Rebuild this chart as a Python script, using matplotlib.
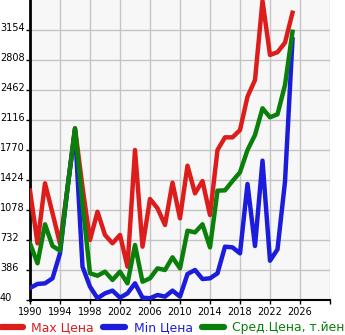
import matplotlib
matplotlib.use("Agg")
import matplotlib.pyplot as plt
from matplotlib.lines import Line2D
import matplotlib.transforms as mtransforms

years = list(range(1990, 2026))
max_price = [1301, 694, 1386, 1043, 690, 1330, 2020, 1343, 732, 1058, 790, 694, 790, 424,
             1770, 655, 1205, 1098, 905, 1393, 982, 1589, 1270, 1412, 1020, 1770, 1916,
             1916, 2000, 2385, 2577, 3490, 2866, 2898, 3008, 3353]
min_price = [178, 225, 232, 290, 578, 1330, 2000, 424, 194, 60, 117, 148, 67, 117,
             232, 67, 60, 98, 79, 148, 79, 340, 386, 282, 290, 348, 655,
             647, 578, 1378, 663, 1647, 493, 624, 1404, 3046]
avg_price = [694, 463, 913, 663, 609, 1330, 2020, 1150, 348, 320, 367, 271, 367, 232,
             674, 251, 290, 405, 386, 532, 405, 839, 820, 913, 647, 1301, 1305,
             1412, 1513, 1770, 1943, 2251, 2147, 2182, 2520, 3134]
y_ticks = [40, 386, 732, 1078, 1424, 1770, 2116, 2462, 2808, 3154]
x_ticks = [1990, 1994, 1998, 2002, 2006, 2010, 2014, 2018, 2022, 2026, 2030]
x_labels = ["1990", "1994", "1998", "2002", "2006", "2010", "2014", "2018", "2022", "2026", ""]
legend_labels = ["Max Цена", "Min Цена", "Сред.Цена, т.йен"]

RED = "#dd1c1c"
BLUE = "#1c1cdc"
GREEN = "#0a800a"

W, H = 345, 335
fig = plt.figure(figsize=(W / 100, H / 100), dpi=100)
ax = fig.add_axes([30 / W, 35 / H, 300 / W, 300 / H])
ax.set_facecolor("#f7f7f7")

lw = 3.2
ax.plot(years, max_price, color=RED, lw=lw, solid_joinstyle="round", zorder=3)
ax.plot(years, min_price, color=BLUE, lw=lw, solid_joinstyle="round", zorder=4)
ax.plot(years, avg_price, color=GREEN, lw=lw, solid_joinstyle="round", zorder=5)

ax.set_xlim(1990, 2030)
ax.set_ylim(40, 3500)
ax.set_xticks(x_ticks)
ax.set_xticklabels(x_labels)
ax.set_yticks(y_ticks)
ax.set_yticklabels([str(v) for v in y_ticks])
ax.grid(True, color="#c4c4c4", lw=1)
ax.set_axisbelow(True)

for s in ["top", "right"]:
    ax.spines[s].set_visible(False)
ax.spines["left"].set_linewidth(2)
ax.spines["bottom"].set_linewidth(1.5)

ax.tick_params(axis="both", direction="out", length=3, width=1, labelsize=7, colors="black")
ax.tick_params(axis="x", pad=2)
ax.tick_params(axis="y", pad=2)
for lab in ax.get_yticklabels():
    lab.set_horizontalalignment("left")
    lab.set_transform(lab.get_transform() + mtransforms.ScaledTranslation(-0.23, 0.03, fig.dpi_scale_trans))

handles = [Line2D([], [], color=c, lw=4.5, solid_capstyle="round") for c in (RED, BLUE, GREEN)]
leg = fig.legend(handles, legend_labels, loc="center left", bbox_to_anchor=(0.003, 7 / H),
                 ncol=3, frameon=False, fontsize=8.9, handlelength=1.8, handletextpad=0.65,
                 columnspacing=0.75, borderpad=0, borderaxespad=0)
for t, c in zip(leg.get_texts(), (RED, BLUE, GREEN)):
    t.set_color(c)

fig.savefig("out.png", dpi=100)
